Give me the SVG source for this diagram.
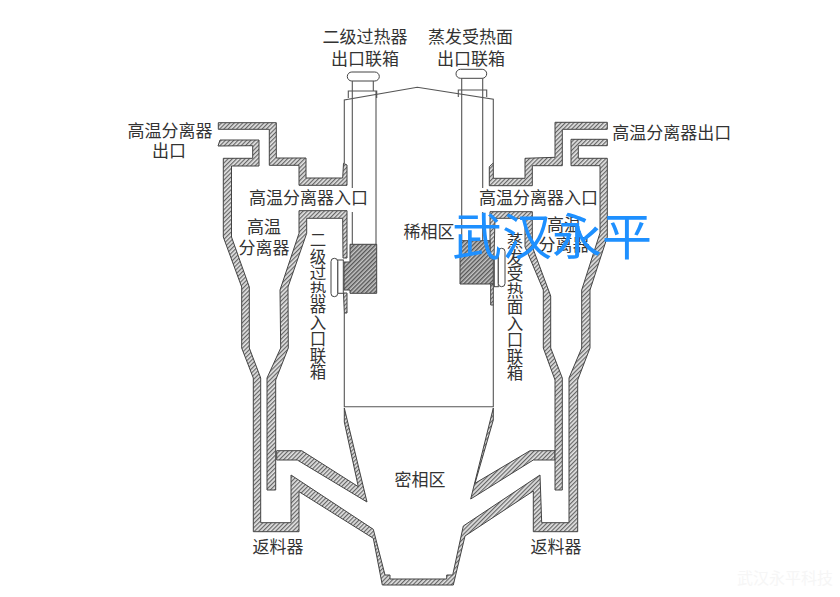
<svg xmlns="http://www.w3.org/2000/svg" width="840" height="597" viewBox="0 0 840 597">
<style>
.w{fill:url(#h);stroke:#444;stroke-width:1;stroke-linejoin:miter}
.b{fill:url(#x);stroke:#444;stroke-width:1}
.l{fill:none;stroke:#555;stroke-width:1.1}
.t{font-family:"Noto Sans CJK SC","Liberation Serif",serif;font-size:17px;fill:#333;text-anchor:middle}
.v{writing-mode:vertical-rl;font-size:16.5px}
</style>
<defs>
<pattern id="h" width="3" height="3" patternUnits="userSpaceOnUse" patternTransform="rotate(45)">
<rect width="3" height="3" fill="#e2e2e2"/><rect width="1.2" height="3" fill="#666"/>
</pattern>
<pattern id="x" width="3" height="3" patternUnits="userSpaceOnUse" patternTransform="rotate(45)">
<rect width="3" height="3" fill="#c4c4c4"/><rect width="1.4" height="3" fill="#555"/>
</pattern>
</defs>
<rect width="840" height="597" fill="#fff"/>
<g id="furnace">
<path class="l" d="M344.3 163V100L417.3 87.3L493.3 99.3V163M344.3 313V406.7H493.3V305"/>
<path class="w" d="M344.3 408L367 502L297.3 460H276.7V450.7H301.7L358.3 486.7L344.3 422Z"/>
<path class="w" d="M493.3 408L470.7 499L533.3 460H555V450.7H530L475 483.3L493.3 420Z"/>
<path class="w" d="M218 146L220 140H259V166H231.5V237L249.3 287V348L260.7 378V522.7H291V475L373.3 529.3L385 575H390V579H446.7V575H452.7L463.3 526L540 475L541.7 522.7H569V378L581.7 348V290L600 233V165.7H571V139.3H607.3V145.7H578.3V158.3H607.3V237L590 290V348L577.7 380V531.7H533.3V491L465 536L453.3 585H382.3L373.3 538.3L299 491.7V531.7H253.3V378L241.7 348V287L223.3 237V158.3H252.7V145.7Z"/>
</g>
<g id="left-separator">
<path class="w" d="M218.3 122.7H276.3V158H306V178H342.7L343.5 163.3L347 165V185.3H299V165.3H269.3V129.3H218.3Z"/>
<path class="w" d="M299 210.7H347V258H343L342.7 218.3H306.7V233.3L288 287L288.3 348L275.700 380V490H267V378L280.700 348L280 290L299 233.3Z"/>
</g>
<g id="right-separator">
<path class="w" d="M607.3 122.3H555V157.3L525 158.3V178.3H493.3V163L489.3 166.7V185.7H532.3V165.7H562.3V129.3H607.3Z"/>
<path class="w" d="M490 211.7H532.3V246.7L550.7 296V348L562.3 378V490H555V380L543.3 348V290L525 246.700V218.3H495L494 258H490Z"/>
</g>
<g id="left-header">
<rect x="347.3" y="72" width="32" height="9" rx="4.500" fill="#fff" stroke="#444"/>
<path class="l" d="M352.3 81V188M352.300 212V245M373.300 81V91M376 91V245M348.300 98V91H376.700V98"/>
<path class="b" d="M350 244.300H376.700V293.300H350V290H344V262H350Z"/>
<path class="w" d="M343.500 293H347V313H344.300Z"/>
<rect x="337.700" y="260" width="5.600" height="33.300" fill="#fff" stroke="#444"/>
<rect x="331" y="258.300" width="6.700" height="38.400" rx="3.300" fill="#fff" stroke="#444"/>
</g>
<g id="right-header">
<rect x="456" y="69.300" width="30.700" height="9" rx="4.500" fill="#fff" stroke="#444"/>
<path class="l" d="M461.700 78.300V241M482.700 78.300V188M482.700 212V241M458.300 97V90H486.700V97"/>
<path class="b" d="M460 240.700H490V258H493.300V284H460Z"/>
<path class="w" d="M490.700 284H493.300V305H490.700Z"/>
<rect x="494.300" y="258" width="4" height="28.700" fill="#fff" stroke="#444"/>
<rect x="498.300" y="248.300" width="6.700" height="38.400" rx="3.300" fill="#fff" stroke="#444"/>
</g>
<g id="labels">
<text class="t" x="365" y="43">二级过热器</text>
<text class="t" x="365" y="65">出口联箱</text>
<text class="t" x="470.500" y="43">蒸发受热面</text>
<text class="t" x="471" y="65">出口联箱</text>
<text class="t" x="170" y="137">高温分离器</text>
<text class="t" x="169" y="157">出口</text>
<text class="t" x="671.700" y="139">高温分离器出口</text>
<text class="t" x="308.500" y="204">高温分离器入口</text>
<text class="t" x="538.500" y="204">高温分离器入口</text>
<text class="t" x="264" y="233">高温</text>
<text class="t" x="264" y="254">分离器</text>
<text class="t" x="564" y="231">高温</text>
<text class="t" x="564" y="251">分离器</text>
<text class="t" x="429" y="238">稀相区</text>
<text class="t v" x="318" y="306">二级过热器入口联箱</text>
<text class="t v" x="515" y="307">蒸发受热面入口联箱</text>
<text class="t" x="420" y="486">密相区</text>
<text class="t" x="278" y="553">返料器</text>
<text class="t" x="556" y="553">返料器</text>
</g>
<g id="watermarks">
<text x="552" y="255" style="font-family:'Noto Sans CJK SC',sans-serif;font-size:50px;fill:#1e90ff;text-anchor:middle">武汉永平</text>
<text x="785" y="584" style="font-family:'Noto Sans CJK SC',sans-serif;font-size:16px;fill:#f6f6f6;text-anchor:middle">武汉永平科技</text>
</g>
</svg>
